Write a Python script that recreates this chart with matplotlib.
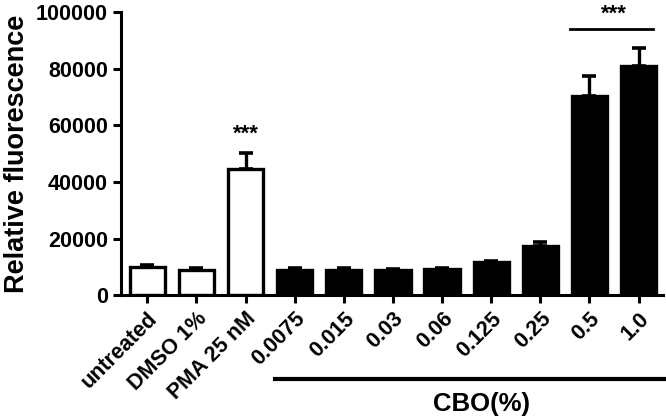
import numpy as np
import matplotlib as mpl
import matplotlib.pyplot as plt

plt.rcParams['font.family'] = ['Liberation Sans', 'DejaVu Sans']
plt.rcParams['font.weight'] = 'bold'

labels = ['untreated', 'DMSO 1%', 'PMA 25 nM', '0.0075', '0.015', '0.03',
          '0.06', '0.125', '0.25', '0.5', '1.0']
means = [10000, 9000, 44500, 9000, 9000, 8800, 9200, 11700, 17500, 70500, 81000]
errs = [500, 500, 5800, 500, 500, 500, 400, 400, 1300, 6800, 6200]
fills = ['white', 'white', 'white'] + ['black'] * 8

fig = plt.figure(figsize=(6.66, 4.18), dpi=100)
ax = fig.add_axes([0.182, 0.294, 0.813, 0.677])

x = np.arange(len(labels))
ax.bar(x, means, width=0.72, color=fills, edgecolor='black', linewidth=2.4, zorder=2)
ax.errorbar(x, means, yerr=[np.zeros(len(errs)), errs], fmt='none', ecolor='black',
            elinewidth=2.4, capsize=5, capthick=2.6, zorder=1)

ax.set_xlim(-0.53, 10.49)
ax.set_ylim(0, 100000)
ax.set_yticks([0, 20000, 40000, 60000, 80000, 100000])
ax.set_xticks(x)
ax.set_xticklabels(labels, rotation=45, ha='right', rotation_mode='anchor')
ax.tick_params(width=2.2, length=6, labelsize=15.5, direction='out')
for s in ['top', 'right']:
    ax.spines[s].set_visible(False)
for s in ['left', 'bottom']:
    ax.spines[s].set_linewidth(2.2)
ax.set_ylabel('Relative fluorescence', fontsize=19.5, fontweight='bold', labelpad=4)

# significance marks
ax.text(2, 53000, '***', ha='center', va='bottom', fontsize=16)
ax.plot([9 - 0.4, 10 + 0.3], [94000, 94000], color='black', lw=2, clip_on=False)
ax.text(9.5, 95500, '***', ha='center', va='bottom', fontsize=16)

# CBO group bracket
ax.plot([2.6, 10.7], [-29500, -29500], color='black', lw=3, clip_on=False)
ax.text(6.8, -38500, 'CBO(%)', ha='center', va='center', fontsize=18.5, fontweight='bold')

fig.savefig('out.png', dpi=100)
